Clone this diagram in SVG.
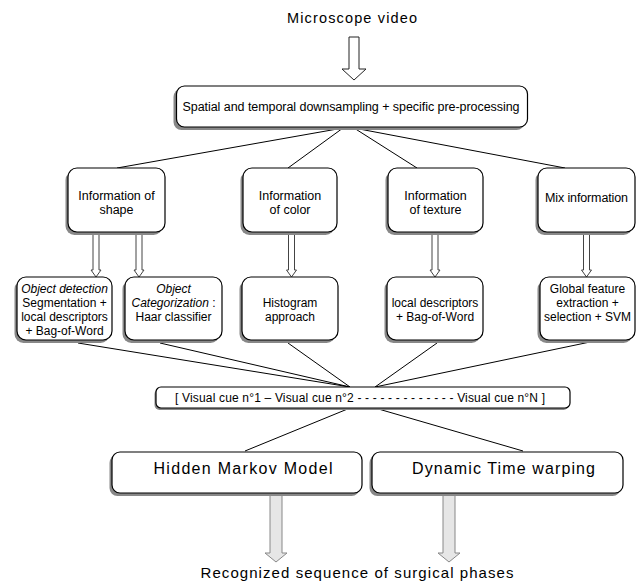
<svg xmlns="http://www.w3.org/2000/svg" width="643" height="584" viewBox="0 0 643 584">
<style>
text{font-family:"Liberation Sans",Arial,sans-serif;fill:#000;text-anchor:middle}
.sh{fill:#888}
.bx{fill:#fff;stroke:#000;stroke-width:1.2}
.ln{stroke:#000;stroke-width:1;fill:none}
.ar{fill:#fff;stroke:#444;stroke-width:1}
.big{fill:#fff;stroke:#222;stroke-width:1}
.gar{fill:#e6e6e6;stroke:#888;stroke-width:1}
.t12{font-size:12.5px}
.t11{font-size:12px}
.t16{font-size:16px}
.it{font-style:italic}
</style>

<text x="352" y="23" font-size="14.5" textLength="130" lengthAdjust="spacing">Microscope video</text>
<polygon class="big" points="349,37 359,37 359,69 366,69 354,80 342,69 349,69"/>

<g id="connectors">
<line class="ln" x1="343" y1="128" x2="117" y2="168"/>
<line class="ln" x1="343" y1="128" x2="288" y2="168"/>
<line class="ln" x1="354" y1="128" x2="417" y2="168"/>
<line class="ln" x1="354" y1="128" x2="565" y2="168"/>
<polygon class="ar" points="93,232 99,232 99,270 101,270 96,277 91,270 93,270"/>
<polygon class="ar" points="136,232 142,232 142,270 144,270 139,277 134,270 136,270"/>
<polygon class="ar" points="288.5,232 294.5,232 294.5,270 296.5,270 291.5,277 286.5,270 288.5,270"/>
<polygon class="ar" points="432,232 438,232 438,270 440,270 435,277 430,270 432,270"/>
<polygon class="ar" points="583.5,232 589.5,232 589.5,270 591.5,270 586.5,277 581.5,270 583.5,270"/>
<line class="ln" x1="78" y1="343" x2="350" y2="387"/>
<line class="ln" x1="160" y1="343" x2="350" y2="387"/>
<line class="ln" x1="288" y1="343" x2="350" y2="387"/>
<line class="ln" x1="437" y1="343" x2="375" y2="387"/>
<line class="ln" x1="590" y1="342" x2="375" y2="387"/>
<line class="ln" x1="350" y1="408" x2="245" y2="451"/>
<line class="ln" x1="375" y1="408" x2="523" y2="451"/>
<polygon class="gar" points="270,493 282,493 282,553 287,553 276,562 265,553 270,553"/>
<polygon class="gar" points="443,493 455,493 455,553 460,553 449,562 438,553 443,553"/>
</g>

<g id="preprocess">
<rect class="sh" x="173.5" y="89" width="351" height="41" rx="8"/>
<rect class="bx" x="176.5" y="86" width="351" height="41" rx="8"/>
<text class="t12" x="351" y="111" font-size="12" textLength="337" lengthAdjust="spacing">Spatial and temporal downsampling + specific pre-processing</text>
</g>

<g id="shape">
<rect class="sh" x="65.5" y="171" width="97" height="64" rx="9"/>
<rect class="bx" x="68" y="168" width="97" height="64" rx="9"/>
<text class="t12" x="116.5" y="200">Information of</text>
<text class="t12" x="116.5" y="214">shape</text>
</g>

<g id="color">
<rect class="sh" x="240.5" y="171" width="94" height="64" rx="9"/>
<rect class="bx" x="243" y="168" width="94" height="64" rx="9"/>
<text class="t12" x="290" y="200">Information</text>
<text class="t12" x="290" y="214">of color</text>
</g>

<g id="texture">
<rect class="sh" x="385.5" y="171" width="95" height="64" rx="9"/>
<rect class="bx" x="388" y="168" width="95" height="64" rx="9"/>
<text class="t12" x="435.5" y="200">Information</text>
<text class="t12" x="435.5" y="214">of texture</text>
</g>

<g id="mix">
<rect class="sh" x="535.5" y="171" width="97" height="64" rx="9"/>
<rect class="bx" x="538" y="168" width="97" height="64" rx="9"/>
<text class="t12" x="586.5" y="202" textLength="83" lengthAdjust="spacing">Mix information</text>
</g>

<g id="objdetect">
<rect class="sh" x="14.5" y="280" width="95" height="63" rx="9"/>
<rect class="bx" x="17" y="277" width="95" height="63" rx="9"/>
<text class="t11 it" x="64.5" y="293">Object detection</text>
<text class="t11" x="64.5" y="307">Segmentation +</text>
<text class="t11" x="64.5" y="321">local descriptors</text>
<text class="t11" x="64.5" y="335">+ Bag-of-Word</text>
</g>

<g id="objcat">
<rect class="sh" x="122.5" y="280" width="97" height="63" rx="9"/>
<rect class="bx" x="125" y="277" width="97" height="63" rx="9"/>
<text class="t11 it" x="173.5" y="293">Object</text>
<text class="t11" x="173.5" y="307"><tspan font-style="italic">Categorization</tspan> :</text>
<text class="t11" x="173.5" y="321">Haar classifier</text>
</g>

<g id="histogram">
<rect class="sh" x="239.5" y="280" width="96" height="63" rx="9"/>
<rect class="bx" x="242" y="277" width="96" height="63" rx="9"/>
<text class="t11" x="290" y="307">Histogram</text>
<text class="t11" x="290" y="321">approach</text>
</g>

<g id="localdesc">
<rect class="sh" x="384.5" y="280" width="96" height="63" rx="9"/>
<rect class="bx" x="387" y="277" width="96" height="63" rx="9"/>
<text class="t11" x="435" y="307">local descriptors</text>
<text class="t11" x="435" y="321">+ Bag-of-Word</text>
</g>

<g id="global">
<rect class="sh" x="537.5" y="280" width="95" height="63" rx="9"/>
<rect class="bx" x="540" y="277" width="95" height="63" rx="9"/>
<text class="t11" x="587.5" y="293">Global feature</text>
<text class="t11" x="587.5" y="307">extraction +</text>
<text class="t11" x="587.5" y="321">selection + SVM</text>
</g>

<g id="visualcue">
<rect class="sh" x="154.5" y="389" width="414" height="21" rx="5"/>
<rect class="bx" x="156" y="387" width="414" height="21" rx="5"/>
<text class="t11" x="360" y="402" font-size="11.5" textLength="370" lengthAdjust="spacing">[ Visual cue n°1 – Visual cue n°2 - - - - - - - - - - - - - Visual cue n°N ]</text>
</g>

<g id="hmm">
<rect class="sh" x="109.5" y="455" width="250" height="41" rx="8"/>
<rect class="bx" x="112" y="452" width="250" height="41" rx="8"/>
<text class="t16" x="243" y="474" textLength="179" lengthAdjust="spacing">Hidden Markov Model</text>
</g>

<g id="dtw">
<rect class="sh" x="369.5" y="455" width="251" height="41" rx="8"/>
<rect class="bx" x="372" y="452" width="251" height="41" rx="8"/>
<text class="t16" x="503.5" y="474" textLength="183" lengthAdjust="spacing">Dynamic Time warping</text>
</g>

<text x="357" y="578" font-size="15" textLength="313" lengthAdjust="spacing">Recognized sequence of surgical phases</text>
</svg>
